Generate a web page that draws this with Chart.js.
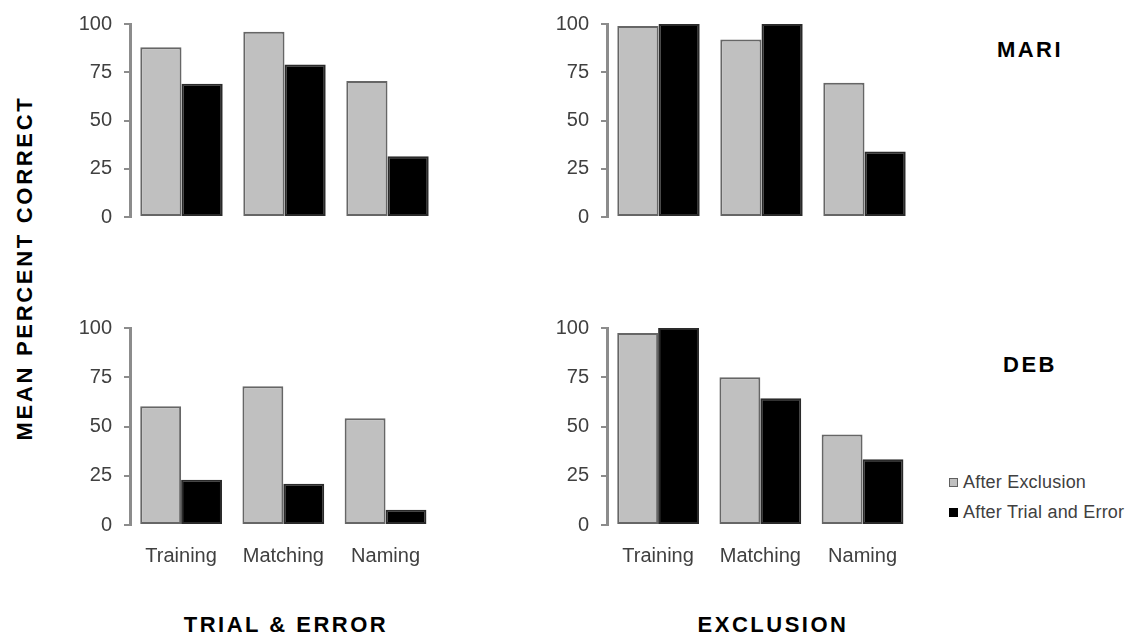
<!DOCTYPE html>
<html lang="en">
<head>
  <meta charset="UTF-8">
  <title>Mean Percent Correct - Mari and Deb</title>
  <script src="https://cdn.jsdelivr.net/npm/chart.js"></script>
  <style>
    body { margin: 0; background: #fff; width: 1127px; height: 640px; position: relative; overflow: hidden; font-family: "Liberation Sans", Arial, sans-serif; }
    .panel { position: absolute; }
    .title { position: absolute; font-weight: bold; font-size: 22px; letter-spacing: 2.5px; color: #000; white-space: nowrap; transform: translate(-50%, -50%); line-height: 1; }
    #ylabel { transform: translate(-50%, -50%) rotate(-90deg); letter-spacing: 2.7px; }
    .legend { position: absolute; left: 949px; font-size: 18px; letter-spacing: 0.2px; color: #404040; white-space: nowrap; line-height: 1; }
    .legend span.box { display: inline-block; width: 9px; height: 9px; margin-right: 5px; vertical-align: 1px; box-sizing: border-box; }
  </style>
</head>
<body>
  <div class="panel" style="left:60px;top:0px;width:379px;height:241px"><canvas id="mariTE"></canvas></div>
  <div class="panel" style="left:537px;top:0px;width:379px;height:241px"><canvas id="mariEX"></canvas></div>
  <div class="panel" style="left:60px;top:300px;width:379px;height:270px"><canvas id="debTE"></canvas></div>
  <div class="panel" style="left:537px;top:300px;width:379px;height:270px"><canvas id="debEX"></canvas></div>

  <div class="title" id="ylabel" style="left:25px;top:268px">MEAN PERCENT CORRECT</div>
  <div class="title" style="left:1030px;top:50px">MARI</div>
  <div class="title" style="left:1030px;top:365px">DEB</div>
  <div class="title" style="left:286px;top:625px">TRIAL &amp; ERROR</div>
  <div class="title" style="left:773px;top:625px">EXCLUSION</div>

  <div class="legend" style="top:473px"><span class="box" style="background:#c0c0c0;border:1px solid #606060"></span>After Exclusion</div>
  <div class="legend" style="top:503px"><span class="box" style="background:#000"></span>After Trial and Error</div>

  <script>
    const categories = ["Training", "Matching", "Naming"];
    const yTicks = [0, 25, 50, 75, 100];

    // MARI
    const mariTE_afterExclusion = [88, 96, 70.5];
    const mariTE_afterTrialError = [69, 79, 31.5];
    const mariEX_afterExclusion = [99, 92, 69.5];
    const mariEX_afterTrialError = [100, 100, 34];

    // DEB
    const debTE_afterExclusion = [60.3, 70.4, 54.2];
    const debTE_afterTrialError = [23, 21, 7.7];
    const debEX_afterExclusion = [97.4, 75, 46];
    const debEX_afterTrialError = [100, 64.3, 33.4];

    Chart.defaults.font.family = '"Liberation Sans", Arial, sans-serif';
    Chart.defaults.animation = false;

    function makePanel(id, grayData, blackData, showLabels) {
      new Chart(document.getElementById(id), {
        type: "bar",
        data: {
          labels: categories,
          datasets: [
            { label: "After Exclusion", data: grayData, backgroundColor: "#c0c0c0", borderColor: "#666666", borderWidth: 2, borderSkipped: false },
            { label: "After Trial and Error", data: blackData, backgroundColor: "#000000", borderColor: "#2a2a2a", borderWidth: 2, borderSkipped: false }
          ]
        },
        options: {
          responsive: true,
          maintainAspectRatio: false,
          devicePixelRatio: 1,
          layout: { padding: { top: showLabels ? 28 : 22, bottom: 0, left: 0, right: 0 } },
          plugins: { legend: { display: false }, tooltip: { enabled: false } },
          datasets: { bar: { categoryPercentage: 0.8, barPercentage: 1.0 } },
          scales: {
            x: {
              display: showLabels,
              grid: { display: false, drawTicks: false },
              border: { display: false },
              ticks: { color: "#404040", font: { size: 20 }, padding: 19, maxRotation: 0 },
              afterFit(scale) { scale.height = showLabels ? 45 : 0; }
            },
            y: {
              min: 0,
              max: 100,
              afterBuildTicks(scale) { scale.ticks = yTicks.map(v => ({ value: v })); },
              grid: { drawOnChartArea: false, drawTicks: true, tickLength: 6, color: "#8c8c8c", lineWidth: 2 },
              border: { display: true, color: "#8c8c8c", width: 3 },
              ticks: { color: "#404040", font: { size: 20 }, padding: 12 },
              afterFit(scale) { scale.width = 70; }
            }
          }
        }
      });
    }

    makePanel("mariTE", mariTE_afterExclusion, mariTE_afterTrialError, false);
    makePanel("mariEX", mariEX_afterExclusion, mariEX_afterTrialError, false);
    makePanel("debTE", debTE_afterExclusion, debTE_afterTrialError, true);
    makePanel("debEX", debEX_afterExclusion, debEX_afterTrialError, true);
  </script>
</body>
</html>
